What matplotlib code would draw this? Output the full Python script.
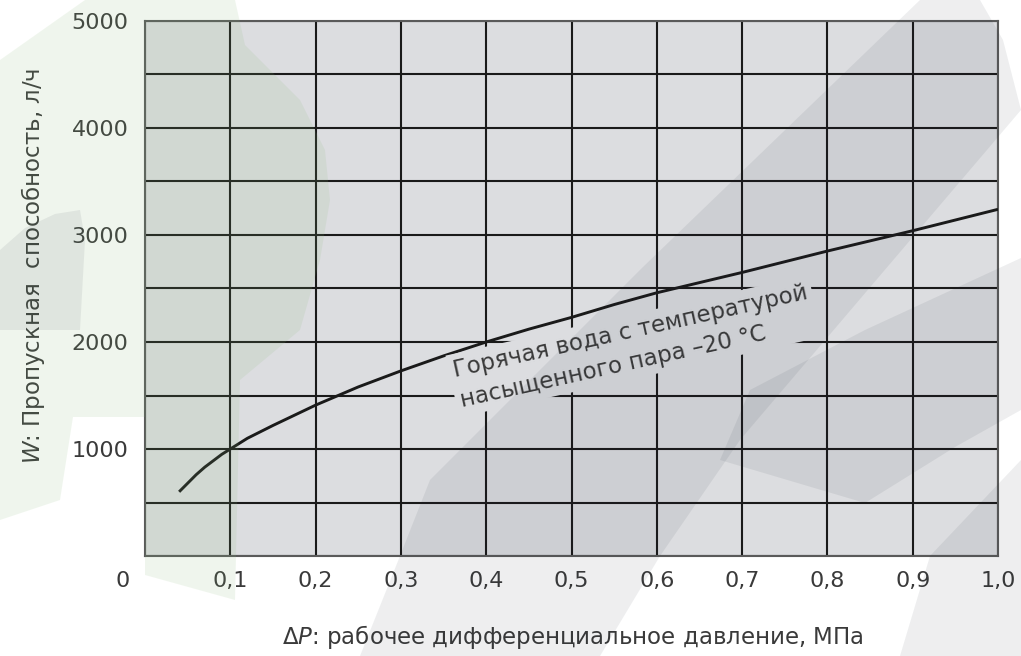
import matplotlib
matplotlib.use("Agg")
import matplotlib.pyplot as plt
from matplotlib.patches import Polygon
from matplotlib.transforms import ScaledTranslation

# Flow capacity curve: hot water at saturated-steam temperature -20 °C
dp = [0.04, 0.05, 0.06, 0.07, 0.08, 0.09, 0.10, 0.12, 0.15, 0.20, 0.25, 0.30, 0.35,
      0.40, 0.45, 0.50, 0.55, 0.60, 0.65, 0.70, 0.75, 0.80, 0.85, 0.90, 0.95, 1.00]
flow = [600, 680, 760, 830, 890, 950, 1000, 1100, 1220, 1410, 1580, 1730, 1870,
        2000, 2120, 2230, 2350, 2460, 2555, 2650, 2750, 2850, 2945, 3040, 3140, 3240]

x_ticks = [0.0, 0.1, 0.2, 0.3, 0.4, 0.5, 0.6, 0.7, 0.8, 0.9, 1.0]
x_tick_labels = ["0", "0,1", "0,2", "0,3", "0,4", "0,5", "0,6", "0,7", "0,8", "0,9", "1,0"]
y_ticks = [1000, 2000, 3000, 4000, 5000]
y_tick_labels = ["1000", "2000", "3000", "4000", "5000"]

curve_label = "Горячая вода с температурой\nнасыщенного пара –20 °C"
x_label = "Δ$P$: рабочее дифференциальное давление, МПа"
y_label = "$W$: Пропускная  способность, л/ч"

plt.rcParams["font.family"] = ["DejaVu Sans"]
plt.rcParams["mathtext.fontset"] = "dejavusans"

W, H = 1021, 656
PLOT_BG = "#dcdde0"
TEXT = "#3a3a3a"
INK = "#1a1a1a"

fig = plt.figure(figsize=(W / 100, H / 100), dpi=100)
fig.patch.set_facecolor("white")

left, right, top, bottom = 145, 998, 21, 556
ax = fig.add_axes([left / W, 1 - bottom / H, (right - left) / W, (bottom - top) / H])
ax.set_facecolor(PLOT_BG)
ax.set_xlim(0, 1.0)
ax.set_ylim(0, 5000)

# grid every 0.1 MPa and 500 l/h
ax.set_yticks(range(0, 5001, 500), minor=True)
ax.set_xticks(x_ticks)
ax.set_xticklabels(x_tick_labels, fontsize=16, color=TEXT)
ax.set_yticks(y_ticks)
ax.set_yticklabels(y_tick_labels, fontsize=16, color=TEXT)
ax.grid(True, which="both", color=INK, linewidth=1.5)
ax.set_axisbelow(True)
ax.tick_params(which="both", length=0)
ax.tick_params(axis="x", pad=11)
ax.tick_params(axis="y", pad=12)

# nudge the origin label to the left of the corner
lab0 = ax.get_xticklabels()[0]
lab0.set_transform(lab0.get_transform() + ScaledTranslation(-0.22, 0, fig.dpi_scale_trans))

for s in ax.spines.values():
    s.set_color("#5a5a5a")
    s.set_linewidth(1.5)

ax.plot(dp, flow, color=INK, linewidth=2.1, solid_capstyle="butt",
        solid_joinstyle="round", zorder=3)

ax.text(0.573, 1960, curve_label, rotation=12.5, rotation_mode="anchor",
        ha="center", va="center", multialignment="left", fontsize=16.5,
        color=TEXT, linespacing=1.45, zorder=4,
        bbox=dict(boxstyle="square,pad=0.2", fc=PLOT_BG, ec="none"))

fig.text(573 / W, 1 - 637 / H, x_label, ha="center", va="center", fontsize=16.5, color=TEXT)
fig.text(33 / W, 1 - 266 / H, y_label, ha="center", va="center", rotation=90,
         fontsize=16.5, color=TEXT)

# faint logo watermark laid over the whole figure (pixel coordinates)
wm = fig.add_axes([0, 0, 1, 1], zorder=10)
wm.set_xlim(0, W)
wm.set_ylim(H, 0)
wm.axis("off")
wm.patch.set_visible(False)

green = "#88b97a"
gray = "#1c2535"
leaf = [(85, 0), (235, 0), (245, 45), (300, 100), (325, 150), (330, 200), (320, 260),
        (300, 330), (240, 380), (235, 600), (145, 575), (145, 417), (73, 417),
        (60, 500), (0, 520), (0, 60)]
wm.add_patch(Polygon(leaf, closed=True, fc=green, ec="none", alpha=0.13))

lump = [(0, 250), (25, 228), (55, 214), (80, 210), (85, 240), (80, 330), (0, 330)]
band = [(920, 0), (980, 0), (1003, 40), (1021, 110), (740, 440), (660, 556), (600, 656),
        (360, 656), (400, 556), (430, 480), (520, 390), (643, 267)]
leg = [(1021, 258), (865, 330), (750, 390), (720, 460), (865, 503), (955, 447), (1021, 410)]
corner = [(1021, 460), (930, 556), (900, 656), (1021, 656)]
for shape in (lump, band, leg, corner):
    wm.add_patch(Polygon(shape, closed=True, fc=gray, ec="none", alpha=0.075))

fig.savefig("out.png", dpi=100, facecolor="white")
